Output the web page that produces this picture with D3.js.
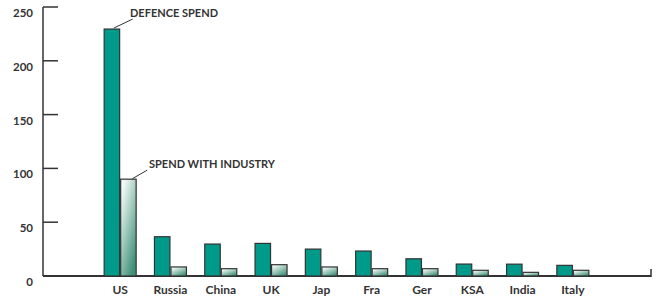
<!DOCTYPE html>
<html><head><meta charset="utf-8">
<script src="https://cdn.jsdelivr.net/npm/d3@7"></script>
<style>body{margin:0;background:#fff}svg{display:block}text{font-family:Lato,"Open Sans",sans-serif;font-weight:bold;fill:#333}</style>
</head><body><svg id="c" width="660" height="296"></svg>
<script>
const categories = ["US","Russia","China","UK","Jap","Fra","Ger","KSA","India","Italy"];
const defenceSpend = [229.5, 36.5, 29.7, 30.3, 25, 23.2, 16, 11.1, 11, 9.9];
const spendWithIndustry = [90, 8.4, 6.8, 10.5, 8.4, 6.8, 6.8, 5.3, 3.4, 5.3];
const yTicks = [0, 50, 100, 150, 200, 250];
const seriesNames = ["DEFENCE SPEND", "SPEND WITH INDUSTRY"];

const svg = d3.select("#c");
const y = d3.scaleLinear().domain([0, 250]).range([276, 7]);
const x = d3.scaleBand().domain(categories).range([95, 598]).padding(0);
const inner = d3.scaleBand().domain([0,1]).range([-16, 16]).paddingInner(0.0625);

const defs = svg.append("defs");
const g = defs.append("linearGradient").attr("id","ind").attr("x1",0).attr("y1",0).attr("x2",0.7).attr("y2",1);
g.append("stop").attr("offset","0%").attr("stop-color","#ffffff");
g.append("stop").attr("offset","15%").attr("stop-color","#eef7f3");
g.append("stop").attr("offset","100%").attr("stop-color","#3f9179");

// y axis line & ticks
svg.append("line").attr("x1",43).attr("x2",43).attr("y1",y(250)).attr("y2",y(0)).attr("stroke","#333").attr("stroke-width",1.5);
svg.selectAll(".tk").data(yTicks.filter(d=>d>0)).join("line")
  .attr("x1",43).attr("x2",58).attr("y1",d=>y(d)).attr("y2",d=>y(d)).attr("stroke","#333").attr("stroke-width",1.5);
svg.selectAll(".yl").data(yTicks).join("text")
  .attr("x",33).attr("y",d=>y(d)+10).attr("text-anchor","end").attr("font-size",11.5).text(d=>d);

// baseline
svg.append("line").attr("x1",43).attr("x2",651).attr("y1",y(0)).attr("y2",y(0)).attr("stroke","#333").attr("stroke-width",1.8);
svg.append("line").attr("x1",651).attr("x2",651).attr("y1",y(0)+0.9).attr("y2",y(0)-7).attr("stroke","#333").attr("stroke-width",1.5);

const cx = c => x(c) + x.bandwidth()/2;
// bars
svg.selectAll(".bd").data(categories).join("rect")
  .attr("x",(c)=>cx(c)+inner(0)).attr("width",inner.bandwidth())
  .attr("y",(c,i)=>y(defenceSpend[i])).attr("height",(c,i)=>y(0)-y(defenceSpend[i]))
  .attr("fill","#009a8b").attr("stroke","#333").attr("stroke-width",1.2);
svg.selectAll(".bi").data(categories).join("rect")
  .attr("x",(c)=>cx(c)+inner(1)).attr("width",inner.bandwidth())
  .attr("y",(c,i)=>y(spendWithIndustry[i])).attr("height",(c,i)=>y(0)-y(spendWithIndustry[i]))
  .attr("fill","url(#ind)").attr("stroke","#333").attr("stroke-width",1.2);

// x labels
svg.selectAll(".xl").data(categories).join("text")
  .attr("x",c=>cx(c)).attr("y",294).attr("text-anchor","middle").attr("font-size",12).text(c=>c);

// annotations
const usx = cx("US");
const dTop = y(defenceSpend[0]), iTop = y(spendWithIndustry[0]);
svg.append("line").attr("x1",usx+inner(0)+inner.bandwidth()/2+2).attr("y1",dTop-1).attr("x2",usx+inner(0)+inner.bandwidth()+13).attr("y2",dTop-10).attr("stroke","#333").attr("stroke-width",1);
svg.append("text").attr("x",130).attr("y",16.5).attr("font-size",11).text(seriesNames[0]);
svg.append("line").attr("x1",usx+inner(1)+inner.bandwidth()/2+4).attr("y1",iTop-0.5).attr("x2",usx+inner(1)+inner.bandwidth()+11).attr("y2",iTop-9).attr("stroke","#333").attr("stroke-width",1);
svg.append("text").attr("x",149).attr("y",167.5).attr("font-size",11).text(seriesNames[1]);
</script></body></html>
